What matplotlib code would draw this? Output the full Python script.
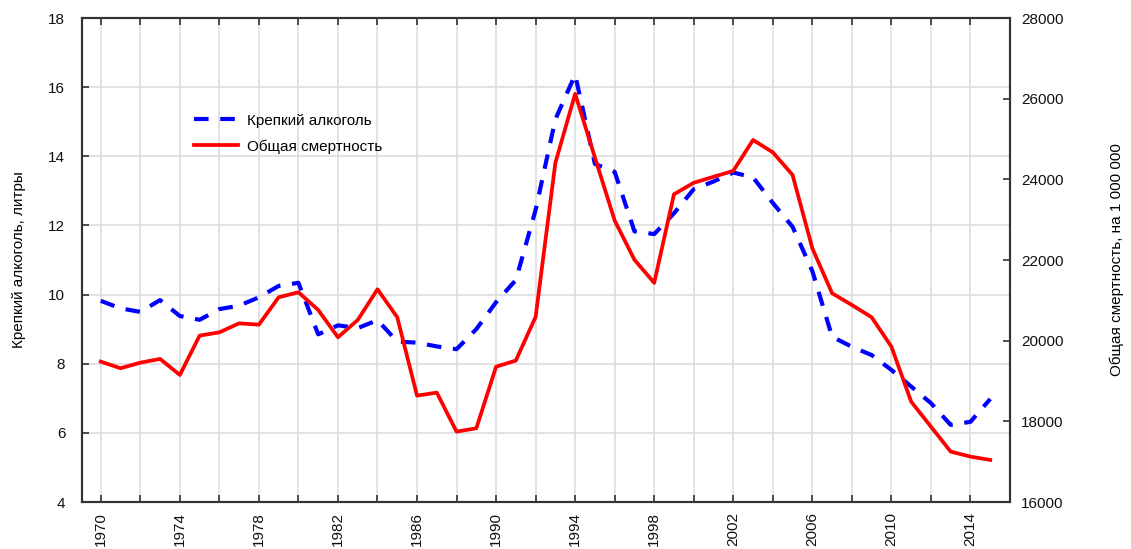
import matplotlib
matplotlib.use("Agg")
import matplotlib.pyplot as plt

plt.rcParams['font.family'] = ['Liberation Sans', 'DejaVu Sans']

years = list(range(1970, 2016))
alcohol = [9.82, 9.6, 9.5, 9.84, 9.38, 9.27, 9.58, 9.68, 9.92, 10.25, 10.34,
           8.85, 9.11, 9.03, 9.26, 8.64, 8.61, 8.5, 8.42, 9.0, 9.78, 10.42,
           12.45, 15.07, 16.36, 13.78, 13.55, 11.83, 11.75, 12.35, 13.05,
           13.27, 13.53, 13.39, 12.65, 11.96, 10.68, 8.78, 8.49, 8.25, 7.82,
           7.34, 6.86, 6.23, 6.32, 6.98]
mortality = [19480, 19316, 19455, 19547, 19150, 20125, 20207, 20430, 20397,
             21076, 21200, 20761, 20084, 20513, 21274, 20580, 18637, 18712,
             17745, 17828, 19355, 19507, 20590, 24410, 26120, 24540, 22978,
             22006, 21433, 23630, 23915, 24063, 24210, 24976, 24670, 24108,
             22290, 21175, 20885, 20580, 19852, 18488, 17868, 17249, 17125,
             17043]

left_label = "Крепкий алкоголь, литры"
right_label = "Общая смертность, на 1 000 000"
label_alc = "Крепкий алкоголь"
label_mort = "Общая смертность"

fig = plt.figure(figsize=(11.31, 5.49), dpi=100)
ax = fig.add_axes([82/1131, 1-502/549, (1010-82)/1131, (502-18)/549])
ax2 = ax.twinx()

ax.set_xlim(1969.05, 2016.0)
ax.set_ylim(4, 18)
ax2.set_ylim(16000, 28000)

ax.set_xticks(range(1970, 2016, 2))
ax.set_xticklabels([str(y) if (y - 1970) % 4 == 0 else "" for y in range(1970, 2016, 2)],
                   rotation=90, fontsize=11)
ax.set_yticks(range(4, 19, 2))
ax2.set_yticks(range(16000, 28001, 2000))

ax.grid(True, color='#dddddd', linewidth=1.2)
ax.set_axisbelow(True)

ax.tick_params(axis='both', direction='in', length=5, width=1.2, labelsize=11,
               top=True, colors='#333333', labelcolor='#111111')
ax2.tick_params(axis='y', direction='in', length=5, width=1.2, labelsize=11,
                colors='#333333', labelcolor='#111111', pad=8)
ax.tick_params(axis='y', pad=12)
ax.tick_params(axis='x', pad=7)

for a in (ax, ax2):
    for s in a.spines.values():
        s.set_linewidth(1.5)
        s.set_color('#333333')

l1, = ax.plot(years, alcohol, color='#0000ff', linewidth=3.0, linestyle=(0, (3.5, 2.8)))
l2, = ax2.plot(years, mortality, color='#ff0000', linewidth=2.7)

ax.set_ylabel(left_label, fontsize=11, labelpad=16)
ax2.set_ylabel(right_label, fontsize=11, labelpad=33)

fig.legend([l1, l2], [label_alc, label_mort], loc='upper left',
           bbox_to_anchor=(180/1131, 1-100/549), frameon=False, fontsize=11,
           handlelength=2.9, handletextpad=0.6, labelspacing=0.75)

fig.savefig("out.png", dpi=100)
